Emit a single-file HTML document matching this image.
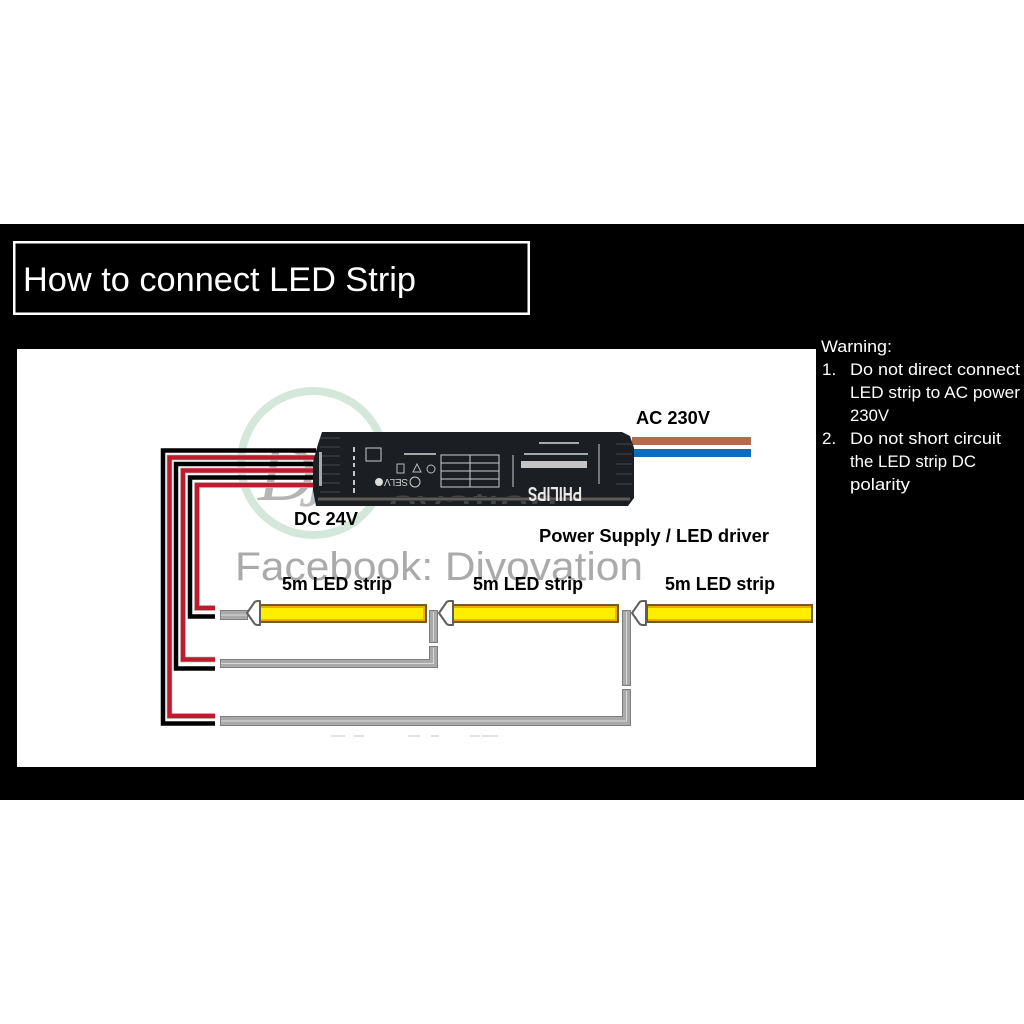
<!DOCTYPE html>
<html><head><meta charset="utf-8"><style>html,body{margin:0;padding:0;background:#fff}svg{display:block}
text{font-family:"Liberation Sans",sans-serif}</style></head><body>
<svg width="1024" height="1024" viewBox="0 0 1024 1024" xmlns="http://www.w3.org/2000/svg">
<defs>
<clipPath id="drv"><rect x="340" y="494" width="290" height="10"/></clipPath>
<linearGradient id="band" x1="0" y1="0" x2="0" y2="1"><stop offset="0" stop-color="#2a2d30"/><stop offset=".5" stop-color="#6e6b66"/><stop offset="1" stop-color="#2a2d30"/></linearGradient>
</defs>
<rect width="1024" height="1024" fill="#fff"/>
<rect y="224" width="1024" height="576" fill="#000"/>
<rect x="14.250" y="242.250" width="514.500" height="71.500" fill="#000" stroke="#fff" stroke-width="2.500"/>
<text x="23" y="291" font-size="34" fill="#fff" textLength="393" lengthAdjust="spacingAndGlyphs">How to connect LED Strip</text>
<rect x="17" y="349" width="799" height="418" fill="#fff"/>

<g stroke="#e2e2e2" stroke-width="2" fill="none"><path d="M331 736h14M354 736h10M408 736h12M431 736h8M470 736h10M482 736h16"/></g>

<!-- watermark circle -->
<circle cx="313" cy="463" r="72" fill="none" stroke="#d3e8da" stroke-width="8"/>
<text x="258" y="500" font-size="78" font-style="italic" fill="#b4b4b4" style="font-family:'Liberation Serif',serif">D</text>
<text x="300" y="506" font-size="50" font-weight="bold" font-style="italic" fill="#bdbdbd" style="font-family:'Liberation Serif',serif">J</text>

<!-- DC wires -->
<g fill="none" stroke-linejoin="miter">
<path d="M215 723.500H163V450.500H316" stroke="#000" stroke-width="4.500"/>
<path d="M215 716H169.500V457.500H316" stroke="#d2d2d2" stroke-width="6"/>
<path d="M215 716H169.500V457.500H316" stroke="#bf1a2e" stroke-width="4.500"/>
<path d="M215 668.500H176V464H316" stroke="#000" stroke-width="4.500"/>
<path d="M215 659.500H183V470.500H316" stroke="#d2d2d2" stroke-width="6"/>
<path d="M215 659.500H183V470.500H316" stroke="#bf1a2e" stroke-width="4.500"/>
<path d="M215 616.500H190V477.500H316" stroke="#000" stroke-width="4.500"/>
<path d="M215 608H197V485H316" stroke="#d2d2d2" stroke-width="6"/>
<path d="M215 608H197V485H316" stroke="#bf1a2e" stroke-width="4.500"/>
</g>

<!-- AC wires -->
<rect x="632" y="437" width="119" height="8" fill="#b06c4c"/>
<rect x="632" y="449" width="119" height="8" fill="#0f6cbd"/>

<!-- driver -->
<path d="M322 432H622L630 436L634 448V498L628 506H316L313 490V462L318 444Z" fill="#1b1f23"/>
<g clip-path="url(#drv)"><text x="388" y="517" font-size="40" fill="#8d8d8d" opacity=".35" textLength="170" lengthAdjust="spacingAndGlyphs">ovation</text></g>
<rect x="318" y="497" width="312" height="4" fill="url(#band)"/>
<g stroke="#454a4f" stroke-width="1"><path d="M320 438H340M320 447H340M320 456H340M320 465H340M320 474H340M320 483H340M320 492H340M616 444H632M616 454H632M616 464H632M616 474H632M616 484H632"/></g>
<rect x="319" y="452" width="3" height="34" fill="#a5a9ac"/>
<g fill="none" stroke="#c9cccd" stroke-width="1">
<rect x="366" y="448" width="15" height="13"/>
<rect x="441" y="455" width="58" height="32"/>
<path d="M441 463H499M441 471H499M441 479H499M470 455V487M513 455V487"/>
<path d="M599 444V484"/>
</g>
<g fill="#c8c8c8"><rect x="353" y="447" width="2" height="5"/><rect x="353" y="456" width="2" height="4"/><rect x="353" y="463" width="2" height="4"/><rect x="353" y="471" width="2" height="5"/><rect x="353" y="480" width="2" height="5"/><rect x="353" y="488" width="2" height="5"/></g>
<text transform="translate(582 487) rotate(180)" font-size="20" font-weight="bold" fill="#e8e8e8" textLength="54" lengthAdjust="spacingAndGlyphs">PHILIPS</text>
<rect x="521" y="461" width="66" height="7" fill="#c4c4c4"/>
<text transform="translate(408 479) rotate(180)" font-size="10" fill="#cfcfcf" textLength="24">SELV</text>
<circle cx="379" cy="482" r="4" fill="#ddd"/>
<circle cx="415" cy="482" r="5" fill="none" stroke="#ccc"/>
<g fill="none" stroke="#b8b8b8" stroke-width="1">
<rect x="397" y="464" width="7" height="9"/><path d="M413 472L417 464L421 472Z"/><circle cx="431" cy="469" r="4"/>
</g>
<g fill="#a8a8a8"><rect x="404" y="453" width="32" height="2"/><rect x="524" y="453" width="64" height="2"/><rect x="539" y="442" width="40" height="2"/></g>

<!-- watermark -->
<text x="235" y="580" font-size="40" fill="#aaa" textLength="408" lengthAdjust="spacingAndGlyphs">Facebook: Divovation</text>

<!-- grey wires -->
<g fill="#a9a9a9" stroke="#7d7d7d" stroke-width="1">
<rect x="220.500" y="610.500" width="27" height="9"/>
<rect x="429.500" y="610.500" width="8" height="32"/>
<rect x="622.500" y="610.500" width="8" height="75"/>
<path d="M220.500 659.500H429.500V646.500H437.500V667.500H220.500Z"/>
<path d="M220.500 716.500H622.500V689.500H630.500V725.500H220.500Z"/>
</g>
<g stroke="#dadada" stroke-width="1" fill="none">
<path d="M221 615H247M433.500 612V641M626.500 612V684M221 663.500H433.500V648M221 721H626.500V691"/>
</g>

<!-- strips -->
<g fill="#f3a90a" stroke="#6f5a35" stroke-width="2">
<rect x="260" y="605" width="166" height="17"/>
<rect x="453" y="605" width="165" height="17"/>
<rect x="647" y="605" width="165" height="17"/>
</g>
<g fill="#ffee00">
<rect x="261" y="608" width="162" height="11"/>
<rect x="454" y="608" width="161" height="11"/>
<rect x="648" y="608" width="163" height="11"/>
</g>
<g fill="#fff" stroke="#5f5f5f" stroke-width="2" stroke-linejoin="round">
<path d="M247 613L254 603Q255 601 258 601H260V625H258Q255 625 254 623Z"/>
<path d="M439 613L446 603Q447 601 450 601H453V625H450Q447 625 446 623Z"/>
<path d="M632 613L639 603Q640 601 643 601H646V625H643Q640 625 639 623Z"/>
</g>

<!-- labels -->
<g font-weight="bold" fill="#000" font-size="18">
<text x="636" y="424" textLength="74" lengthAdjust="spacingAndGlyphs">AC 230V</text>
<text x="294" y="525" textLength="64" lengthAdjust="spacingAndGlyphs">DC 24V</text>
<text x="539" y="542" textLength="230" lengthAdjust="spacingAndGlyphs">Power Supply / LED driver</text>
<text x="282" y="590" textLength="110" lengthAdjust="spacingAndGlyphs">5m LED strip</text>
<text x="473" y="590" textLength="110" lengthAdjust="spacingAndGlyphs">5m LED strip</text>
<text x="665" y="590" textLength="110" lengthAdjust="spacingAndGlyphs">5m LED strip</text>
</g>

<!-- warning -->
<g fill="#fff" font-size="17">
<text x="821" y="352" textLength="71" lengthAdjust="spacingAndGlyphs">Warning:</text>
<text x="822" y="375">1.</text>
<text x="850" y="375" textLength="170" lengthAdjust="spacingAndGlyphs">Do not direct connect</text>
<text x="850" y="398" textLength="170" lengthAdjust="spacingAndGlyphs">LED strip to AC power</text>
<text x="850" y="421" textLength="39" lengthAdjust="spacingAndGlyphs">230V</text>
<text x="822" y="444">2.</text>
<text x="850" y="444" textLength="151" lengthAdjust="spacingAndGlyphs">Do not short circuit</text>
<text x="850" y="467" textLength="126" lengthAdjust="spacingAndGlyphs">the LED strip DC</text>
<text x="850" y="490" textLength="60" lengthAdjust="spacingAndGlyphs">polarity</text>
</g>
</svg>
</body></html>
